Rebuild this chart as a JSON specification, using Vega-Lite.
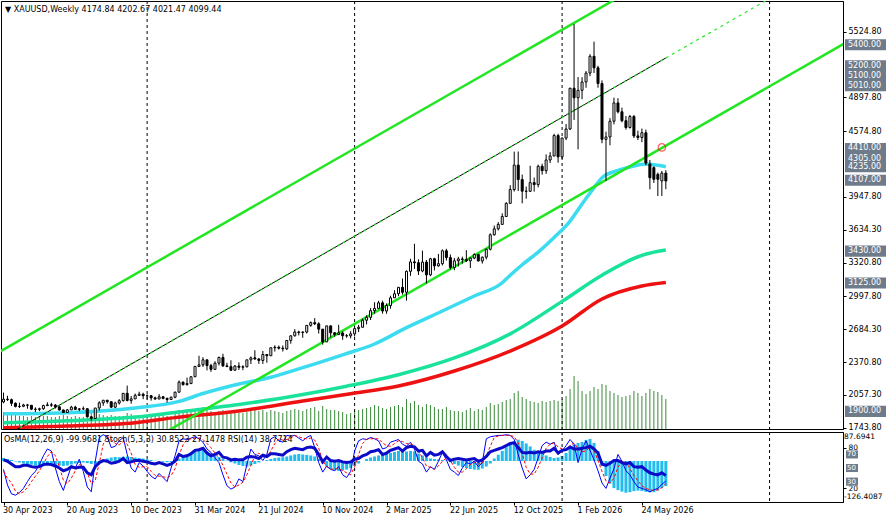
{
"$schema":"https://vega.github.io/schema/vega-lite/v6.json",
"padding":0,
"background":"white",
"spacing":3,
"bounds":"flush",
"config":{"view":{"stroke":"#000000","strokeWidth":1},"axis":{"labelFont":"DejaVu Sans","labelFontSize":8,"labelColor":"#000000","domainColor":"#000000","tickColor":"#000000","grid":false},"text":{"font":"DejaVu Sans","fontSize":8},"title":{"font":"DejaVu Sans","fontSize":8,"fontWeight":"normal","color":"#000000"}},
"datasets":{
"w":[
{"d":"2023-04-30","o":1990,"h":2079,"l":1977,"c":2016,"v":17,"m":12,"k":48,"s":45,"r":62},
{"d":"2023-05-07","o":2016,"h":2048,"l":2000,"c":2011,"v":15,"m":8,"k":25,"s":35,"r":60},
{"d":"2023-05-14","o":2011,"h":2022,"l":1952,"c":1977,"v":14,"m":4,"k":12,"s":28,"r":56},
{"d":"2023-05-21","o":1977,"h":1985,"l":1938,"c":1946,"v":14,"m":-2,"k":10,"s":16,"r":52},
{"d":"2023-05-28","o":1946,"h":1983,"l":1932,"c":1948,"v":13,"m":-6,"k":14,"s":12,"r":52},
{"d":"2023-06-04","o":1948,"h":1972,"l":1940,"c":1961,"v":13,"m":-10,"k":20,"s":15,"r":54},
{"d":"2023-06-11","o":1961,"h":1971,"l":1925,"c":1958,"v":12,"m":-12,"k":30,"s":21,"r":54},
{"d":"2023-06-18","o":1958,"h":1959,"l":1912,"c":1921,"v":13,"m":-15,"k":39,"s":30,"r":52},
{"d":"2023-06-25","o":1921,"h":1938,"l":1893,"c":1919,"v":12,"m":-18,"k":45,"s":38,"r":51},
{"d":"2023-07-02","o":1919,"h":1935,"l":1902,"c":1925,"v":12,"m":-18,"k":55,"s":46,"r":52},
{"d":"2023-07-09","o":1925,"h":1963,"l":1915,"c":1955,"v":13,"m":-16,"k":68,"s":56,"r":55},
{"d":"2023-07-16","o":1955,"h":1987,"l":1950,"c":1962,"v":13,"m":-14,"k":78,"s":67,"r":56},
{"d":"2023-07-23","o":1962,"h":1982,"l":1943,"c":1959,"v":12,"m":-14,"k":75,"s":74,"r":55},
{"d":"2023-07-30","o":1959,"h":1970,"l":1927,"c":1943,"v":12,"m":-16,"k":50,"s":68,"r":53},
{"d":"2023-08-06","o":1943,"h":1948,"l":1909,"c":1913,"v":13,"m":-18,"k":30,"s":52,"r":50},
{"d":"2023-08-13","o":1913,"h":1917,"l":1885,"c":1889,"v":14,"m":-20,"k":17,"s":32,"r":46},
{"d":"2023-08-20","o":1889,"h":1922,"l":1884,"c":1914,"v":13,"m":-18,"k":35,"s":27,"r":48},
{"d":"2023-08-27","o":1914,"h":1953,"l":1913,"c":1940,"v":12,"m":-14,"k":53,"s":35,"r":52},
{"d":"2023-09-03","o":1940,"h":1953,"l":1915,"c":1919,"v":13,"m":-10,"k":50,"s":46,"r":50},
{"d":"2023-09-10","o":1919,"h":1932,"l":1901,"c":1924,"v":12,"m":-8,"k":63,"s":55,"r":51},
{"d":"2023-09-17","o":1924,"h":1947,"l":1913,"c":1925,"v":12,"m":-6,"k":45,"s":53,"r":51},
{"d":"2023-09-24","o":1925,"h":1926,"l":1846,"c":1848,"v":14,"m":-8,"k":22,"s":43,"r":43},
{"d":"2023-10-01","o":1848,"h":1853,"l":1810,"c":1832,"v":16,"m":-12,"k":15,"s":27,"r":40},
{"d":"2023-10-08","o":1832,"h":1932,"l":1831,"c":1932,"v":17,"m":-10,"k":60,"s":32,"r":52},
{"d":"2023-10-15","o":1932,"h":1997,"l":1908,"c":1981,"v":15,"m":-4,"k":95,"s":57,"r":58},
{"d":"2023-10-22","o":1981,"h":2009,"l":1953,"c":2006,"v":14,"m":5,"k":99,"s":85,"r":61},
{"d":"2023-10-29","o":2006,"h":2010,"l":1974,"c":1992,"v":13,"m":10,"k":96,"s":97,"r":60},
{"d":"2023-11-05","o":1992,"h":1993,"l":1932,"c":1940,"v":14,"m":14,"k":80,"s":92,"r":57},
{"d":"2023-11-12","o":1940,"h":1993,"l":1931,"c":1980,"v":13,"m":16,"k":82,"s":86,"r":58},
{"d":"2023-11-19","o":1980,"h":2017,"l":1965,"c":2002,"v":13,"m":15,"k":90,"s":84,"r":60},
{"d":"2023-11-26","o":2002,"h":2075,"l":1993,"c":2072,"v":13,"m":17,"k":95,"s":89,"r":64},
{"d":"2023-12-03","o":2072,"h":2146,"l":1995,"c":2004,"v":16,"m":18,"k":70,"s":85,"r":58},
{"d":"2023-12-10","o":2004,"h":2047,"l":1973,"c":2019,"v":15,"m":16,"k":50,"s":72,"r":59},
{"d":"2023-12-17","o":2019,"h":2070,"l":2017,"c":2053,"v":13,"m":14,"k":44,"s":55,"r":61},
{"d":"2023-12-24","o":2053,"h":2088,"l":2048,"c":2063,"v":10,"m":12,"k":58,"s":51,"r":61},
{"d":"2023-12-31","o":2063,"h":2078,"l":2016,"c":2049,"v":12,"m":10,"k":53,"s":52,"r":60},
{"d":"2024-01-07","o":2049,"h":2062,"l":2013,"c":2049,"v":14,"m":7,"k":45,"s":52,"r":59},
{"d":"2024-01-14","o":2049,"h":2057,"l":2002,"c":2029,"v":13,"m":4,"k":38,"s":45,"r":57},
{"d":"2024-01-21","o":2029,"h":2041,"l":2010,"c":2018,"v":13,"m":1,"k":34,"s":39,"r":56},
{"d":"2024-01-28","o":2018,"h":2065,"l":2016,"c":2039,"v":13,"m":-1,"k":42,"s":38,"r":58},
{"d":"2024-02-04","o":2039,"h":2047,"l":2015,"c":2024,"v":14,"m":-3,"k":36,"s":37,"r":56},
{"d":"2024-02-11","o":2024,"h":2031,"l":1984,"c":2013,"v":13,"m":-5,"k":30,"s":36,"r":54},
{"d":"2024-02-18","o":2013,"h":2041,"l":2011,"c":2035,"v":13,"m":-4,"k":50,"s":39,"r":56},
{"d":"2024-02-25","o":2035,"h":2088,"l":2025,"c":2083,"v":15,"m":2,"k":68,"s":49,"r":60},
{"d":"2024-03-03","o":2083,"h":2195,"l":2079,"c":2179,"v":19,"m":10,"k":90,"s":69,"r":70},
{"d":"2024-03-10","o":2179,"h":2185,"l":2146,"c":2155,"v":18,"m":18,"k":93,"s":84,"r":67},
{"d":"2024-03-17","o":2155,"h":2222,"l":2146,"c":2165,"v":17,"m":26,"k":92,"s":92,"r":68},
{"d":"2024-03-24","o":2165,"h":2236,"l":2163,"c":2230,"v":17,"m":34,"k":94,"s":93,"r":71},
{"d":"2024-03-31","o":2230,"h":2330,"l":2228,"c":2329,"v":18,"m":40,"k":96,"s":94,"r":76},
{"d":"2024-04-07","o":2329,"h":2431,"l":2326,"c":2344,"v":21,"m":45,"k":93,"s":94,"r":77},
{"d":"2024-04-14","o":2344,"h":2417,"l":2324,"c":2392,"v":22,"m":44,"k":88,"s":92,"r":79},
{"d":"2024-04-21","o":2392,"h":2392,"l":2291,"c":2337,"v":19,"m":38,"k":78,"s":86,"r":72},
{"d":"2024-04-28","o":2337,"h":2354,"l":2277,"c":2301,"v":18,"m":30,"k":73,"s":80,"r":68},
{"d":"2024-05-05","o":2301,"h":2378,"l":2295,"c":2360,"v":17,"m":22,"k":65,"s":72,"r":70},
{"d":"2024-05-12","o":2360,"h":2422,"l":2339,"c":2415,"v":18,"m":16,"k":58,"s":65,"r":73},
{"d":"2024-05-19","o":2415,"h":2450,"l":2325,"c":2334,"v":19,"m":8,"k":40,"s":54,"r":66},
{"d":"2024-05-26","o":2334,"h":2364,"l":2325,"c":2327,"v":17,"m":2,"k":24,"s":41,"r":65},
{"d":"2024-06-02","o":2327,"h":2388,"l":2286,"c":2293,"v":17,"m":-5,"k":19,"s":28,"r":62},
{"d":"2024-06-09","o":2293,"h":2342,"l":2287,"c":2332,"v":18,"m":-10,"k":22,"s":22,"r":63},
{"d":"2024-06-16","o":2332,"h":2368,"l":2295,"c":2321,"v":16,"m":-16,"k":34,"s":25,"r":62},
{"d":"2024-06-23","o":2321,"h":2340,"l":2293,"c":2326,"v":16,"m":-20,"k":30,"s":29,"r":62},
{"d":"2024-06-30","o":2326,"h":2392,"l":2319,"c":2392,"v":17,"m":-22,"k":55,"s":40,"r":66},
{"d":"2024-07-07","o":2392,"h":2424,"l":2352,"c":2411,"v":18,"m":-18,"k":78,"s":54,"r":67},
{"d":"2024-07-14","o":2411,"h":2483,"l":2393,"c":2400,"v":19,"m":-12,"k":70,"s":68,"r":66},
{"d":"2024-07-21","o":2400,"h":2410,"l":2353,"c":2386,"v":18,"m":-6,"k":68,"s":72,"r":64},
{"d":"2024-07-28","o":2386,"h":2477,"l":2353,"c":2443,"v":19,"m":0,"k":61,"s":66,"r":69},
{"d":"2024-08-04","o":2443,"h":2447,"l":2364,"c":2431,"v":17,"m":4,"k":70,"s":66,"r":67},
{"d":"2024-08-11","o":2431,"h":2509,"l":2430,"c":2507,"v":19,"m":8,"k":93,"s":75,"r":71},
{"d":"2024-08-18","o":2507,"h":2531,"l":2471,"c":2512,"v":18,"m":12,"k":96,"s":86,"r":71},
{"d":"2024-08-25","o":2512,"h":2528,"l":2491,"c":2503,"v":17,"m":14,"k":90,"s":93,"r":70},
{"d":"2024-09-01","o":2503,"h":2529,"l":2471,"c":2497,"v":16,"m":15,"k":88,"s":91,"r":69},
{"d":"2024-09-08","o":2497,"h":2581,"l":2485,"c":2577,"v":18,"m":18,"k":98,"s":92,"r":74},
{"d":"2024-09-15","o":2577,"h":2626,"l":2546,"c":2621,"v":19,"m":22,"k":97,"s":94,"r":77},
{"d":"2024-09-22","o":2621,"h":2685,"l":2615,"c":2658,"v":20,"m":26,"k":98,"s":98,"r":79},
{"d":"2024-09-29","o":2658,"h":2670,"l":2625,"c":2653,"v":19,"m":28,"k":94,"s":96,"r":78},
{"d":"2024-10-06","o":2653,"h":2665,"l":2603,"c":2657,"v":18,"m":26,"k":90,"s":94,"r":77},
{"d":"2024-10-13","o":2657,"h":2722,"l":2643,"c":2721,"v":20,"m":24,"k":95,"s":93,"r":80},
{"d":"2024-10-20","o":2721,"h":2758,"l":2708,"c":2747,"v":21,"m":22,"k":98,"s":94,"r":81},
{"d":"2024-10-27","o":2747,"h":2790,"l":2724,"c":2736,"v":22,"m":18,"k":80,"s":91,"r":79},
{"d":"2024-11-03","o":2736,"h":2750,"l":2643,"c":2685,"v":18,"m":8,"k":58,"s":79,"r":70},
{"d":"2024-11-10","o":2685,"h":2686,"l":2537,"c":2563,"v":23,"m":-10,"k":44,"s":61,"r":59},
{"d":"2024-11-17","o":2563,"h":2716,"l":2563,"c":2716,"v":20,"m":-22,"k":53,"s":52,"r":66},
{"d":"2024-11-24","o":2716,"h":2721,"l":2605,"c":2650,"v":19,"m":-32,"k":48,"s":48,"r":61},
{"d":"2024-12-01","o":2650,"h":2657,"l":2613,"c":2633,"v":19,"m":-38,"k":46,"s":49,"r":60},
{"d":"2024-12-08","o":2633,"h":2726,"l":2631,"c":2648,"v":18,"m":-40,"k":52,"s":49,"r":61},
{"d":"2024-12-15","o":2648,"h":2664,"l":2583,"c":2622,"v":17,"m":-38,"k":40,"s":46,"r":59},
{"d":"2024-12-22","o":2622,"h":2638,"l":2603,"c":2621,"v":15,"m":-34,"k":36,"s":43,"r":58},
{"d":"2024-12-29","o":2621,"h":2665,"l":2597,"c":2640,"v":16,"m":-28,"k":45,"s":40,"r":59},
{"d":"2025-01-05","o":2640,"h":2697,"l":2615,"c":2690,"v":18,"m":-20,"k":75,"s":52,"r":63},
{"d":"2025-01-12","o":2690,"h":2726,"l":2657,"c":2703,"v":19,"m":-10,"k":90,"s":70,"r":64},
{"d":"2025-01-19","o":2703,"h":2786,"l":2700,"c":2770,"v":20,"m":0,"k":93,"s":86,"r":68},
{"d":"2025-01-26","o":2770,"h":2817,"l":2730,"c":2798,"v":21,"m":8,"k":92,"s":92,"r":70},
{"d":"2025-02-02","o":2798,"h":2886,"l":2772,"c":2861,"v":22,"m":14,"k":95,"s":93,"r":74},
{"d":"2025-02-09","o":2861,"h":2942,"l":2832,"c":2883,"v":24,"m":18,"k":93,"s":93,"r":75},
{"d":"2025-02-16","o":2883,"h":2955,"l":2877,"c":2936,"v":23,"m":22,"k":90,"s":93,"r":77},
{"d":"2025-02-23","o":2936,"h":2956,"l":2833,"c":2858,"v":21,"m":26,"k":78,"s":87,"r":70},
{"d":"2025-03-02","o":2858,"h":2930,"l":2832,"c":2910,"v":20,"m":28,"k":80,"s":83,"r":72},
{"d":"2025-03-09","o":2910,"h":3004,"l":2880,"c":2984,"v":22,"m":32,"k":88,"s":82,"r":76},
{"d":"2025-03-16","o":2984,"h":3057,"l":2982,"c":3023,"v":23,"m":36,"k":90,"s":86,"r":78},
{"d":"2025-03-23","o":3023,"h":3086,"l":2999,"c":3084,"v":24,"m":40,"k":92,"s":90,"r":80},
{"d":"2025-03-30","o":3084,"h":3168,"l":3015,"c":3037,"v":22,"m":42,"k":85,"s":89,"r":75},
{"d":"2025-04-06","o":3037,"h":3245,"l":2957,"c":3237,"v":30,"m":38,"k":82,"s":86,"r":80},
{"d":"2025-04-13","o":3237,"h":3357,"l":3194,"c":3327,"v":26,"m":40,"k":88,"s":85,"r":82},
{"d":"2025-04-20","o":3327,"h":3500,"l":3260,"c":3319,"v":28,"m":38,"k":78,"s":83,"r":81},
{"d":"2025-04-27","o":3319,"h":3352,"l":3202,"c":3240,"v":24,"m":30,"k":60,"s":75,"r":75},
{"d":"2025-05-04","o":3240,"h":3435,"l":3228,"c":3325,"v":22,"m":22,"k":56,"s":65,"r":76},
{"d":"2025-05-11","o":3325,"h":3345,"l":3121,"c":3203,"v":25,"m":14,"k":44,"s":53,"r":68},
{"d":"2025-05-18","o":3203,"h":3366,"l":3190,"c":3357,"v":24,"m":10,"k":52,"s":51,"r":73},
{"d":"2025-05-25","o":3357,"h":3366,"l":3245,"c":3289,"v":22,"m":8,"k":48,"s":48,"r":69},
{"d":"2025-06-01","o":3289,"h":3403,"l":3281,"c":3310,"v":20,"m":6,"k":60,"s":53,"r":70},
{"d":"2025-06-08","o":3310,"h":3446,"l":3293,"c":3433,"v":20,"m":4,"k":73,"s":60,"r":74},
{"d":"2025-06-15","o":3433,"h":3452,"l":3340,"c":3368,"v":22,"m":2,"k":62,"s":65,"r":67},
{"d":"2025-06-22","o":3368,"h":3398,"l":3255,"c":3274,"v":19,"m":-5,"k":48,"s":61,"r":61},
{"d":"2025-06-29","o":3274,"h":3365,"l":3247,"c":3337,"v":18,"m":-12,"k":44,"s":51,"r":63},
{"d":"2025-07-06","o":3337,"h":3375,"l":3283,"c":3355,"v":18,"m":-18,"k":39,"s":44,"r":64},
{"d":"2025-07-13","o":3355,"h":3377,"l":3310,"c":3350,"v":17,"m":-24,"k":50,"s":44,"r":63},
{"d":"2025-07-20","o":3350,"h":3439,"l":3325,"c":3337,"v":19,"m":-28,"k":58,"s":49,"r":62},
{"d":"2025-07-27","o":3337,"h":3370,"l":3268,"c":3363,"v":21,"m":-32,"k":56,"s":55,"r":63},
{"d":"2025-08-03","o":3363,"h":3409,"l":3353,"c":3398,"v":18,"m":-34,"k":60,"s":58,"r":64},
{"d":"2025-08-10","o":3398,"h":3404,"l":3331,"c":3336,"v":20,"m":-35,"k":52,"s":56,"r":60},
{"d":"2025-08-17","o":3336,"h":3378,"l":3311,"c":3372,"v":19,"m":-30,"k":58,"s":57,"r":62},
{"d":"2025-08-24","o":3372,"h":3454,"l":3350,"c":3448,"v":22,"m":-22,"k":93,"s":68,"r":67},
{"d":"2025-08-31","o":3448,"h":3600,"l":3436,"c":3586,"v":26,"m":-10,"k":96,"s":82,"r":74},
{"d":"2025-09-07","o":3586,"h":3674,"l":3578,"c":3643,"v":24,"m":10,"k":97,"s":95,"r":76},
{"d":"2025-09-14","o":3643,"h":3707,"l":3627,"c":3685,"v":25,"m":25,"k":98,"s":97,"r":78},
{"d":"2025-09-21","o":3685,"h":3791,"l":3685,"c":3760,"v":27,"m":40,"k":98,"s":98,"r":80},
{"d":"2025-09-28","o":3760,"h":3897,"l":3758,"c":3886,"v":29,"m":55,"k":99,"s":98,"r":83},
{"d":"2025-10-05","o":3886,"h":4059,"l":3885,"c":4018,"v":30,"m":70,"k":98,"s":98,"r":86},
{"d":"2025-10-12","o":4018,"h":4380,"l":3999,"c":4251,"v":36,"m":80,"k":92,"s":96,"r":87},
{"d":"2025-10-19","o":4251,"h":4381,"l":4004,"c":4113,"v":38,"m":85,"k":70,"s":87,"r":80},
{"d":"2025-10-26","o":4113,"h":4161,"l":3886,"c":4002,"v":32,"m":80,"k":50,"s":71,"r":73},
{"d":"2025-11-02","o":4002,"h":4046,"l":3930,"c":4001,"v":30,"m":70,"k":34,"s":51,"r":72},
{"d":"2025-11-09","o":4001,"h":4245,"l":3997,"c":4084,"v":28,"m":58,"k":40,"s":41,"r":73},
{"d":"2025-11-16","o":4084,"h":4132,"l":3998,"c":4065,"v":27,"m":45,"k":48,"s":41,"r":72},
{"d":"2025-11-23","o":4065,"h":4256,"l":4039,"c":4240,"v":26,"m":38,"k":65,"s":51,"r":74},
{"d":"2025-11-30","o":4240,"h":4264,"l":4160,"c":4198,"v":28,"m":30,"k":83,"s":65,"r":73},
{"d":"2025-12-07","o":4198,"h":4353,"l":4168,"c":4300,"v":27,"m":22,"k":88,"s":79,"r":75},
{"d":"2025-12-14","o":4300,"h":4375,"l":4271,"c":4338,"v":28,"m":16,"k":85,"s":85,"r":75},
{"d":"2025-12-21","o":4338,"h":4550,"l":4338,"c":4533,"v":29,"m":12,"k":88,"s":87,"r":79},
{"d":"2025-12-28","o":4533,"h":4550,"l":4274,"c":4330,"v":28,"m":14,"k":70,"s":81,"r":72},
{"d":"2026-01-04","o":4330,"h":4515,"l":4310,"c":4509,"v":30,"m":20,"k":75,"s":78,"r":76},
{"d":"2026-01-11","o":4509,"h":4643,"l":4490,"c":4596,"v":33,"m":32,"k":83,"s":76,"r":77},
{"d":"2026-01-18","o":4596,"h":4990,"l":4586,"c":4985,"v":40,"m":50,"k":92,"s":83,"r":81},
{"d":"2026-01-25","o":4985,"h":5598,"l":4682,"c":4894,"v":53,"m":66,"k":85,"s":87,"r":78},
{"d":"2026-02-01","o":4894,"h":5092,"l":4402,"c":4965,"v":48,"m":72,"k":58,"s":78,"r":78},
{"d":"2026-02-08","o":4965,"h":5090,"l":4880,"c":5045,"v":38,"m":76,"k":78,"s":74,"r":79},
{"d":"2026-02-15","o":5045,"h":5150,"l":4990,"c":5130,"v":35,"m":84,"k":90,"s":75,"r":80},
{"d":"2026-02-22","o":5130,"h":5310,"l":5100,"c":5290,"v":38,"m":87.69,"k":76,"s":81,"r":82},
{"d":"2026-03-01","o":5290,"h":5430,"l":5130,"c":5180,"v":42,"m":72,"k":62,"s":76,"r":78},
{"d":"2026-03-08","o":5180,"h":5200,"l":4990,"c":5030,"v":40,"m":40,"k":46,"s":61,"r":72},
{"d":"2026-03-15","o":5030,"h":5060,"l":4460,"c":4497,"v":45,"m":-20,"k":28,"s":45,"r":56},
{"d":"2026-03-22","o":4497,"h":4570,"l":4100,"c":4520,"v":44,"m":-60,"k":20,"s":31,"r":54},
{"d":"2026-03-29","o":4520,"h":4700,"l":4440,"c":4670,"v":38,"m":-90,"k":35,"s":28,"r":57},
{"d":"2026-04-05","o":4670,"h":4895,"l":4640,"c":4845,"v":36,"m":-108,"k":49,"s":35,"r":61},
{"d":"2026-04-12","o":4845,"h":4890,"l":4745,"c":4760,"v":34,"m":-116,"k":70,"s":51,"r":61},
{"d":"2026-04-19","o":4760,"h":4800,"l":4660,"c":4675,"v":32,"m":-122,"k":60,"s":60,"r":58},
{"d":"2026-04-26","o":4675,"h":4720,"l":4590,"c":4610,"v":33,"m":-126.4,"k":46,"s":59,"r":56},
{"d":"2026-05-03","o":4610,"h":4730,"l":4600,"c":4715,"v":34,"m":-124,"k":40,"s":49,"r":58},
{"d":"2026-05-10","o":4715,"h":4730,"l":4510,"c":4530,"v":38,"m":-120,"k":30,"s":39,"r":52},
{"d":"2026-05-17","o":4530,"h":4580,"l":4490,"c":4515,"v":36,"m":-118,"k":22,"s":31,"r":51},
{"d":"2026-05-24","o":4515,"h":4600,"l":4470,"c":4560,"v":33,"m":-120,"k":20,"s":24,"r":52},
{"d":"2026-05-31","o":4560,"h":4590,"l":4250,"c":4270,"v":36,"m":-123,"k":18,"s":20,"r":47},
{"d":"2026-06-07","o":4262,"h":4300,"l":4020,"c":4131,"v":40,"m":-125,"k":15,"s":18,"r":43},
{"d":"2026-06-14","o":4227,"h":4240,"l":4080,"c":4116,"v":38,"m":-124,"k":18,"s":17,"r":41},
{"d":"2026-06-21","o":4163,"h":4180,"l":3956,"c":4116,"v":37,"m":-118,"k":20,"s":18,"r":40},
{"d":"2026-06-28","o":4100,"h":4195,"l":3956,"c":4175,"v":34,"m":-108,"k":26,"s":21,"r":43},
{"d":"2026-07-05","o":4174.84,"h":4202.67,"l":4021.47,"c":4099.44,"v":30,"m":-99.97,"k":30.85,"s":27.15,"r":38.77}
],
"lv":[{"p":5400},{"p":5200},{"p":5165},{"p":5100},{"p":5010},{"p":4410},{"p":4338},{"p":4305},{"p":4235},{"p":4107},{"p":3430},{"p":3125},{"p":1900}],
"lb":[{"p":5400,"t":"5400.00"},{"p":5200,"t":"5200.00"},{"p":5100,"t":"5100.00"},{"p":5010,"t":"5010.00"},{"p":4410,"t":"4410.00"},{"p":4235,"t":"4235.00"},{"p":4305,"t":"4305.00"},{"p":4107,"t":"4107.00"},{"p":3430,"t":"3430.00"},{"p":3125,"t":"3125.00"},{"p":1900,"t":"1900.00"}],
"sep":[{"d":"2024-01-07"},{"d":"2025-01-05"},{"d":"2026-01-04"},{"d":"2027-01-03"}],
"ma1":[{"d":"2023-04-30","p":1876},{"d":"2023-08-20","p":1887},{"d":"2023-12-17","p":1932},{"d":"2024-03-03","p":1995},{"d":"2024-04-14","p":2070},{"d":"2024-06-16","p":2161},{"d":"2024-08-11","p":2225},{"d":"2024-10-06","p":2317},{"d":"2024-12-15","p":2440},{"d":"2025-02-09","p":2543},{"d":"2025-04-06","p":2699},{"d":"2025-06-08","p":2858},{"d":"2025-08-03","p":3001},{"d":"2025-09-21","p":3128},{"d":"2025-10-05","p":3200},{"d":"2025-10-26","p":3300},{"d":"2025-11-23","p":3420},{"d":"2025-12-21","p":3560},{"d":"2026-01-18","p":3717},{"d":"2026-02-08","p":3880},{"d":"2026-03-01","p":4035},{"d":"2026-03-15","p":4131},{"d":"2026-04-12","p":4200},{"d":"2026-05-10","p":4243},{"d":"2026-05-31","p":4262},{"d":"2026-06-21","p":4250},{"d":"2026-07-05","p":4236}],
"ma2":[{"d":"2023-04-30","p":1790},{"d":"2023-08-20","p":1810},{"d":"2023-12-17","p":1845},{"d":"2024-02-25","p":1890},{"d":"2024-06-16","p":1965},{"d":"2024-10-06","p":2060},{"d":"2024-12-22","p":2140},{"d":"2025-03-23","p":2250},{"d":"2025-06-29","p":2410},{"d":"2025-10-05","p":2640},{"d":"2026-01-04","p":2950},{"d":"2026-03-15","p":3200},{"d":"2026-05-24","p":3390},{"d":"2026-07-05","p":3440}],
"ma3":[{"d":"2023-04-30","p":1744},{"d":"2023-08-20","p":1760},{"d":"2023-12-17","p":1792},{"d":"2024-02-25","p":1840},{"d":"2024-06-16","p":1903},{"d":"2024-10-06","p":1999},{"d":"2024-12-29","p":2069},{"d":"2025-03-23","p":2142},{"d":"2025-06-29","p":2285},{"d":"2025-10-05","p":2476},{"d":"2026-01-04","p":2715},{"d":"2026-03-15","p":2973},{"d":"2026-05-24","p":3097},{"d":"2026-07-05","p":3130}],
"cu":[{"d":"2023-04-23","p":2468},{"d":"2027-05-16","p":7092}],
"cl":[{"d":"2023-04-23","p":794},{"d":"2027-05-16","p":5418}],
"cm":[{"d":"2023-04-23","p":1632},{"d":"2026-07-05","p":5274}],
"cx":[{"d":"2026-07-05","p":5274},{"d":"2027-05-16","p":6255}],
"al":[{"d":"2026-06-28","p":4420}],
"old":[{"p":80},{"p":20}],
"ols":[{"p":70,"t":"70"},{"p":50,"t":"50"},{"p":30,"t":"30"}],
"oshi":[{"m":87.6941,"t":"87.6941"}],
"oslo":[{"m":-126.4087,"t":"-126.4087"}]
},
"vconcat":[
{
"width":842,"height":428,
"title":{"text":"▼ XAUUSD,Weekly  4174.84 4202.67 4021.47 4099.44","anchor":"start","frame":"group","offset":-13,"dx":4,"font":"DejaVu Sans","fontSize":8,"fontWeight":"normal","color":"#000000"},
"encoding":{"x":{"field":"d","type":"temporal","title":null,"axis":null,"scale":{"type":"utc","nice":false,"padding":0,"domain":[{"year":2023,"month":"April","date":25,"hours":14,"minutes":44,"utc":true},{"year":2027,"month":"May","date":11,"hours":19,"minutes":30,"utc":true}]}}},
"layer":[
{"data":{"name":"w"},"mark":{"type":"bar","size":1,"color":"#3a8a3a","clip":true},"encoding":{"y":{"field":"v","type":"quantitative","title":null,"scale":{"domain":[0,428],"nice":false,"zero":false},"axis":null},"y2":{"datum":0}}},
{"data":{"name":"sep"},"mark":{"type":"rule","color":"#000000","strokeDash":[3,3],"strokeWidth":1}},
{"encoding":{"y":{"field":"p","type":"quantitative","title":null,"scale":{"domain":[1731.5,5818],"nice":false,"zero":false},"axis":{"orient":"right","values":[5524.8,4897.8,4574.8,3947.8,3634.3,3320.8,2997.8,2684.3,2370.8,2057.3,1743.8],"format":".2f","tickSize":3,"labelPadding":2,"title":null,"grid":false}}},
"layer":[
{"data":{"name":"lv"},"mark":{"type":"rule","color":"#7b8794","strokeWidth":1.2}},
{"data":{"name":"ma3"},"mark":{"type":"line","color":"#ee1111","strokeWidth":3.5,"interpolate":"monotone","clip":true}},
{"data":{"name":"ma2"},"mark":{"type":"line","color":"#19e39a","strokeWidth":3.5,"interpolate":"monotone","clip":true}},
{"data":{"name":"ma1"},"mark":{"type":"line","color":"#3cdcf0","strokeWidth":3.5,"interpolate":"monotone","clip":true}},
{"data":{"name":"cu"},"mark":{"type":"line","color":"#22e622","strokeWidth":2.5,"clip":true}},
{"data":{"name":"cl"},"mark":{"type":"line","color":"#22e622","strokeWidth":2.5,"clip":true}},
{"data":{"name":"cm"},"mark":{"type":"line","color":"#000000","strokeWidth":1,"clip":true}},
{"data":{"name":"cm"},"mark":{"type":"line","color":"#22e622","strokeWidth":1.5,"strokeDash":[2,4],"clip":true}},
{"data":{"name":"cx"},"mark":{"type":"line","color":"#22e622","strokeWidth":1.2,"strokeDash":[3,4],"clip":true}},
{"data":{"name":"w"},"mark":{"type":"rule","color":"#000000","strokeWidth":1,"clip":true},"encoding":{"y":{"field":"l","type":"quantitative","title":null,"scale":{"domain":[1731.5,5818],"nice":false,"zero":false}},"y2":{"field":"h"}}},
{"data":{"name":"w"},"mark":{"type":"bar","size":2,"stroke":"#000000","strokeWidth":1,"clip":true},"encoding":{"y":{"field":"o","type":"quantitative","title":null,"scale":{"domain":[1731.5,5818],"nice":false,"zero":false}},"y2":{"field":"c"},"fill":{"condition":{"test":"datum.c >= datum.o","value":"#ffffff"},"value":"#000000"}}},
{"data":{"name":"al"},"mark":{"type":"point","shape":"circle","size":55,"filled":false,"color":"#ff2020","strokeWidth":1.3}},
{"data":{"name":"lb"},"mark":{"type":"point","shape":"M-1,-0.27H1V0.27H-1Z","size":1681,"filled":true,"color":"#6e7b8b","strokeWidth":0,"opacity":1,"xOffset":22.5},"encoding":{"x":{"value":"width"}}},
{"data":{"name":"lb"},"mark":{"type":"text","align":"left","baseline":"middle","xOffset":5,"color":"#ffffff","font":"DejaVu Sans","fontSize":8},"encoding":{"x":{"value":"width"},"text":{"field":"t"}}}
]}
],
"resolve":{"scale":{"y":"independent"}}
},
{
"width":842,"height":70,
"title":{"text":"OsMA(12,26,9) -99.9681  Stoch(5,3,3) 30.8523 27.1478  RSI(14) 38.7714","anchor":"start","frame":"group","offset":-12,"dx":3,"font":"DejaVu Sans","fontSize":8,"fontWeight":"normal","color":"#000000"},
"encoding":{"x":{"field":"d","type":"temporal","title":null,"scale":{"type":"utc","nice":false,"padding":0,"domain":[{"year":2023,"month":"April","date":25,"hours":14,"minutes":44,"utc":true},{"year":2027,"month":"May","date":11,"hours":19,"minutes":30,"utc":true}]},"axis":{"values":[{"year":2023,"month":"April","date":30,"utc":true},{"year":2023,"month":"August","date":20,"utc":true},{"year":2023,"month":"December","date":10,"utc":true},{"year":2024,"month":"March","date":31,"utc":true},{"year":2024,"month":"July","date":21,"utc":true},{"year":2024,"month":"November","date":10,"utc":true},{"year":2025,"month":"March","date":2,"utc":true},{"year":2025,"month":"June","date":22,"utc":true},{"year":2025,"month":"October","date":12,"utc":true},{"year":2026,"month":"February","date":1,"utc":true},{"year":2026,"month":"May","date":24,"utc":true}],"labelExpr":"utcFormat(datum.value, '%-d %b %Y')","labelAlign":"left","labelFlush":false,"labelOverlap":false,"tickSize":3,"labelPadding":1,"labelOffset":-1,"title":null,"grid":false}}},
"layer":[
{"encoding":{"y":{"field":"m","type":"quantitative","title":null,"scale":{"domain":[-163.3,115.5],"nice":false,"zero":false},"axis":null}},
"layer":[
{"data":{"name":"w"},"mark":{"type":"bar","size":3,"color":"#22bbee","clip":true},"encoding":{"y2":{"datum":0}}},
{"data":{"name":"oshi"},"mark":{"type":"text","align":"left","baseline":"middle","xOffset":1,"yOffset":-1.5,"color":"#000000","font":"DejaVu Sans","fontSize":7.5},"encoding":{"x":{"value":"width"},"text":{"field":"t"}}},
{"data":{"name":"oslo"},"mark":{"type":"text","align":"left","baseline":"middle","xOffset":1,"yOffset":4.5,"color":"#000000","font":"DejaVu Sans","fontSize":7.5},"encoding":{"x":{"value":"width"},"text":{"field":"t"}}}
]},
{"data":{"name":"sep"},"mark":{"type":"rule","color":"#000000","strokeDash":[3,3],"strokeWidth":1}},
{"encoding":{"y":{"field":"p","type":"quantitative","title":null,"scale":{"domain":[0,103],"nice":false,"zero":false},"axis":{"orient":"right","values":[80,20],"format":"d","tickSize":3,"labelPadding":2,"labelFontSize":7.5,"title":null,"grid":false}}},
"layer":[
{"data":{"name":"old"},"mark":{"type":"rule","color":"#a8a8a8","strokeDash":[4,3],"strokeWidth":1}},
{"data":{"name":"ols"},"mark":{"type":"rule","color":"#7b8794","strokeWidth":1.5}},
{"data":{"name":"w"},"mark":{"type":"line","color":"#0000ff","strokeWidth":1,"clip":true},"encoding":{"y":{"field":"k","type":"quantitative","title":null,"scale":{"domain":[0,103],"nice":false,"zero":false}}}},
{"data":{"name":"w"},"mark":{"type":"line","color":"#ff0000","strokeWidth":1,"strokeDash":[3,2],"clip":true},"encoding":{"y":{"field":"s","type":"quantitative","title":null,"scale":{"domain":[0,103],"nice":false,"zero":false}}}},
{"data":{"name":"w"},"mark":{"type":"line","color":"#0c0cc8","strokeWidth":3,"clip":true},"encoding":{"y":{"field":"r","type":"quantitative","title":null,"scale":{"domain":[0,103],"nice":false,"zero":false}}}},
{"data":{"name":"ols"},"mark":{"type":"point","shape":"M-1,-0.67H1V0.67H-1Z","size":144,"filled":true,"color":"#6e7b8b","strokeWidth":0,"opacity":1,"xOffset":9},"encoding":{"x":{"value":"width"}}},
{"data":{"name":"ols"},"mark":{"type":"text","align":"left","baseline":"middle","xOffset":4,"color":"#ffffff","font":"DejaVu Sans","fontSize":7},"encoding":{"x":{"value":"width"},"text":{"field":"t"}}}
]}
],
"resolve":{"scale":{"y":"independent"}}
}
]
}
